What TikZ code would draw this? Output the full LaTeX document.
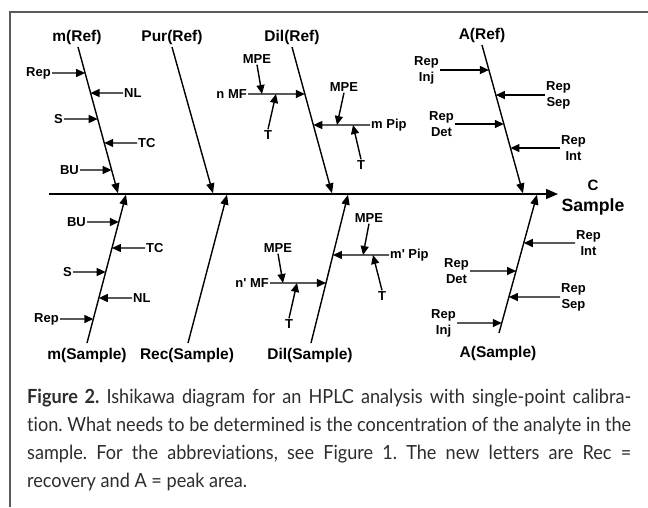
\documentclass[tikz,border=0pt]{standalone}
\usepackage{fontspec}
\usepackage{graphicx}
\usetikzlibrary{arrows.meta,calc}
\newfontfamily\labfont{Liberation Sans}
\newfontfamily\capfont{Lato}[Ligatures={NoCommon}]
\newcommand\capsz{\capfont\fontsize{19.5}{28}\selectfont\frenchspacing}
\newlength\capwA \newlength\capwB \newlength\capwC \newlength\capwM
\definecolor{capcol}{RGB}{45,45,45}
\definecolor{framecol}{RGB}{90,90,90}
\newcommand\onbone[4]{\coordinate (#1) at (intersection cs: first line={(#2)--(#3)}, second line={(#4)--([xshift=10pt]#4)});}
\newcommand\lineA{\textbf{Figure 2.} Ishikawa diagram for an HPLC analysis with single-point calibra-}
\newcommand\lineB{tion. What needs to be determined is the concentration of the analyte in the}
\newcommand\lineC{sample. For the abbreviations, see Figure 1. The new letters are Rec =}
\newcommand\lineD{recovery and A = peak area.}
\begin{document}
\settowidth\capwA{\capsz\lineA}%
\settowidth\capwB{\capsz\lineB}%
\settowidth\capwC{\capsz\lineC}%
\setlength\capwM{\capwA}%
\ifdim\capwB>\capwM \setlength\capwM{\capwB}\fi
\ifdim\capwC>\capwM \setlength\capwM{\capwC}\fi
\ifdim\capwM<10pt \setlength\capwM{750pt}\fi
\pgfmathsetmacro\capscale{604/\capwM}%
\pgfmathsetlengthmacro\capinner{604pt/\capscale}%
\begin{tikzpicture}[x=1pt,y=-1pt,
  lab/.style={font=\labfont\bfseries\fontsize{13}{16}\selectfont, inner sep=1pt, align=center},
  bonelab/.style={font=\labfont\bfseries\fontsize{15.5}{18}\selectfont, inner sep=0pt},
  bone/.style={line width=1.4pt, -{Triangle[length=10pt,width=8pt]}},
  arr/.style={line width=1.4pt, -{Triangle[length=9pt,width=8pt]}},
  spinestyle/.style={line width=1.5pt, -{Triangle[length=12pt,width=10pt]}},
  framestyle/.style={line width=1.3pt, draw=framecol},
  caption/.style={anchor=base west, inner sep=0pt, text=capcol}
]
\useasboundingbox (0,0) rectangle (648,507);
\fill[white] (0,0) rectangle (648,507);
% frame
\coordinate (fTR) at (648,12);
\coordinate (fTL) at (10,12);
\coordinate (fBL) at (10,507);
\draw[framestyle] (fTR) -- (fTL) -- (fBL);

% spine
\coordinate (spineL) at (49,194);
\coordinate (spineR) at (558,194);
\draw[spinestyle] (spineL) -- (spineR);
\node[bonelab, font=\labfont\bfseries\fontsize{15}{18}\selectfont] (Clab) at (593,185) {C};
\node[bonelab, font=\labfont\bfseries\fontsize{17.7}{20}\selectfont] (Slab) at (593,207) {Sample};

% bones (upper)
\coordinate (mRtop) at (78,47);   \coordinate (mRtip) at (118,193.3);
\coordinate (PRtop) at (172,47);  \coordinate (PRtip) at (213,193.3);
\coordinate (DRtop) at (292,47);  \coordinate (DRtip) at (332,193.3);
\coordinate (ARtop) at (482,45);  \coordinate (ARtip) at (523,193.3);
% bones (lower)
\coordinate (mSbot) at (87,343);  \coordinate (mStip) at (126,194.7);
\coordinate (RSbot) at (188,343); \coordinate (RStip) at (227,194.7);
\coordinate (DSbot) at (311,343); \coordinate (DStip) at (348,194.7);
\coordinate (ASbot) at (499,333); \coordinate (AStip) at (537,194.7);

\foreach \a/\b in {mRtop/mRtip,PRtop/PRtip,DRtop/DRtip,ARtop/ARtip,mSbot/mStip,RSbot/RStip,DSbot/DStip,ASbot/AStip}
  \draw[bone] (\a) -- (\b);

% bone labels
\node[bonelab] (mRl) at (77,37) {m(Ref)};
\node[bonelab] (PRl) at (172,37) {Pur(Ref)};
\node[bonelab] (DRl) at (292,37) {Dil(Ref)};
\node[bonelab] (ARl) at (482,35) {A(Ref)};
\node[bonelab] (mSl) at (87,355) {m(Sample)};
\node[bonelab] (RSl) at (187,355) {Rec(Sample)};
\node[bonelab] (DSl) at (310,355) {Dil(Sample)};
\node[bonelab] (ASl) at (498,353) {A(Sample)};

% ---- m(Ref) causes
\node[lab, anchor=east] (mRrep) at (52,73) {Rep};
\node[lab, anchor=west] (mRnl) at (123,93) {NL};
\node[lab, anchor=east] (mRs) at (64,119) {S};
\node[lab, anchor=west] (mRtc) at (137,143) {TC};
\node[lab, anchor=east] (mRbu) at (80,170) {BU};
\onbone{p1}{mRtop}{mRtip}{mRrep.east}
\onbone{p2}{mRtop}{mRtip}{mRnl.west}
\onbone{p3}{mRtop}{mRtip}{mRs.east}
\onbone{p4}{mRtop}{mRtip}{mRtc.west}
\onbone{p5}{mRtop}{mRtip}{mRbu.east}
\draw[arr] (mRrep.east) -- (p1);
\draw[arr] (mRnl.west) -- (p2);
\draw[arr] (mRs.east) -- (p3);
\draw[arr] (mRtc.west) -- (p4);
\draw[arr] (mRbu.east) -- (p5);

% ---- m(Sample) causes
\node[lab, anchor=east] (mSbu) at (87,222) {BU};
\node[lab, anchor=west] (mStc) at (145,248) {TC};
\node[lab, anchor=east] (mSs) at (73,272) {S};
\node[lab, anchor=west] (mSnl) at (132,298) {NL};
\node[lab, anchor=east] (mSrep) at (60,319) {Rep};
\onbone{q1}{mSbot}{mStip}{mSbu.east}
\onbone{q2}{mSbot}{mStip}{mStc.west}
\onbone{q3}{mSbot}{mStip}{mSs.east}
\onbone{q4}{mSbot}{mStip}{mSnl.west}
\onbone{q5}{mSbot}{mStip}{mSrep.east}
\draw[arr] (mSbu.east) -- (q1);
\draw[arr] (mStc.west) -- (q2);
\draw[arr] (mSs.east) -- (q3);
\draw[arr] (mSnl.west) -- (q4);
\draw[arr] (mSrep.east) -- (q5);

% ---- Dil(Ref) causes
\node[lab, anchor=east] (nMF) at (248,94) {n MF};
\node[lab, anchor=west] (mPip) at (370,125) {m Pip};
\onbone{d1}{DRtop}{DRtip}{nMF.east}
\onbone{d2}{DRtop}{DRtip}{mPip.west}
\draw[arr] (nMF.east) -- (d1);
\draw[arr] (mPip.west) -- (d2);
\node[lab] (mpe1) at (257,59) {MPE};
\node[lab] (t1) at (268,135) {T};
\coordinate (e1) at ([xshift=14pt]nMF.east);
\coordinate (e2) at ([xshift=28pt]nMF.east);
\draw[arr] (mpe1.south) -- (e1);
\draw[arr] (t1.north) -- (e2);
\node[lab] (mpe2) at (344,87) {MPE};
\node[lab] (t2) at (361,165) {T};
\coordinate (e3) at ([xshift=-33pt]mPip.west);
\coordinate (e4) at ([xshift=-17pt]mPip.west);
\draw[arr] (mpe2.south) -- (e3);
\draw[arr] (t2.north) -- (e4);

% ---- Dil(Sample) causes
\node[lab, anchor=east] (nMFs) at (270,283) {n' MF};
\node[lab, anchor=west] (mPips) at (389,255) {m' Pip};
\onbone{d3}{DSbot}{DStip}{nMFs.east}
\onbone{d4}{DSbot}{DStip}{mPips.west}
\draw[arr] (nMFs.east) -- (d3);
\draw[arr] (mPips.west) -- (d4);
\node[lab] (mpe3) at (278,248) {MPE};
\node[lab] (t3) at (289,324) {T};
\coordinate (e5) at ([xshift=13pt]nMFs.east);
\coordinate (e6) at ([xshift=27pt]nMFs.east);
\draw[arr] (mpe3.south) -- (e5);
\draw[arr] (t3.north) -- (e6);
\node[lab] (mpe4) at (369,218) {MPE};
\node[lab] (t4) at (382,296) {T};
\coordinate (e7) at ([xshift=-26pt]mPips.west);
\coordinate (e8) at ([xshift=-16pt]mPips.west);
\draw[arr] (mpe4.south) -- (e7);
\draw[arr] (t4.north) -- (e8);

% ---- A(Ref) causes
\node[lab, anchor=east] (aRinj) at (440,70) {Rep\\Inj};
\node[lab, anchor=west] (aRsep) at (545,95) {Rep\\Sep};
\node[lab, anchor=east] (aRdet) at (455,124) {Rep\\Det};
\node[lab, anchor=west] (aRint) at (560,148) {Rep\\Int};
\onbone{a1}{ARtop}{ARtip}{aRinj.east}
\onbone{a2}{ARtop}{ARtip}{aRsep.west}
\onbone{a3}{ARtop}{ARtip}{aRdet.east}
\onbone{a4}{ARtop}{ARtip}{aRint.west}
\draw[arr] (aRinj.east) -- (a1);
\draw[arr] (aRsep.west) -- (a2);
\draw[arr] (aRdet.east) -- (a3);
\draw[arr] (aRint.west) -- (a4);

% ---- A(Sample) causes
\node[lab, anchor=west] (aSint) at (575,243) {Rep\\Int};
\node[lab, anchor=east] (aSdet) at (470,271) {Rep\\Det};
\node[lab, anchor=west] (aSsep) at (560,297) {Rep\\Sep};
\node[lab, anchor=east] (aSinj) at (457,323) {Rep\\Inj};
\onbone{b1}{ASbot}{AStip}{aSint.west}
\onbone{b2}{ASbot}{AStip}{aSdet.east}
\onbone{b3}{ASbot}{AStip}{aSsep.west}
\onbone{b4}{ASbot}{AStip}{aSinj.east}
\draw[arr] (aSint.west) -- (b1);
\draw[arr] (aSdet.east) -- (b2);
\draw[arr] (aSsep.west) -- (b3);
\draw[arr] (aSinj.east) -- (b4);

% ---- caption
\node[caption] (cap1) at (27,403) {\scalebox{\capscale}[1]{\makebox[\capinner][s]{\capsz\lineA}}};
\node[caption] (cap2) at (27,431) {\scalebox{\capscale}[1]{\makebox[\capinner][s]{\capsz\lineB}}};
\node[caption] (cap3) at (27,459) {\scalebox{\capscale}[1]{\makebox[\capinner][s]{\capsz\lineC}}};
\node[caption] (cap4) at (27,487) {\scalebox{\capscale}[1]{\capsz\lineD}};
\end{tikzpicture}
\end{document}
